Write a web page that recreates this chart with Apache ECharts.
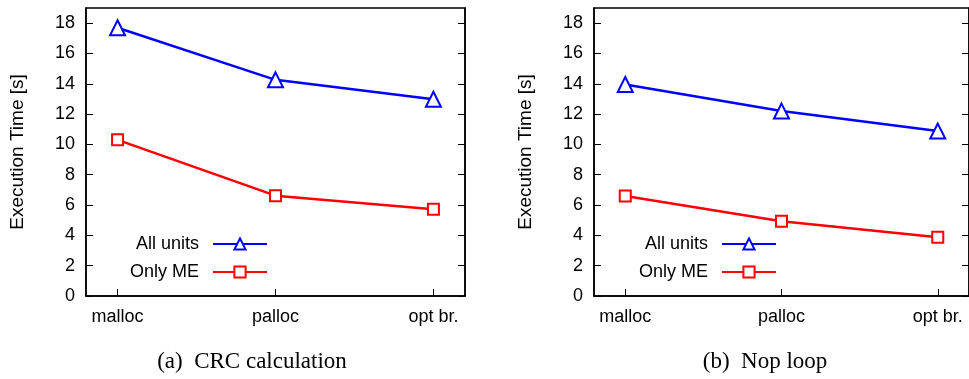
<!DOCTYPE html>
<html>
<head>
<meta charset="utf-8">
<script src="https://cdn.jsdelivr.net/npm/echarts@6/dist/echarts.min.js"></script>
<style>
	html, body { margin: 0; padding: 0; background: #fff; }
	#chart { width: 969px; height: 379px; }
</style>
</head>
<body>
<div id="chart"></div>
<script>
	var categories = ['malloc', 'palloc', 'opt br.'];
	var yTicks = [0, 2, 4, 6, 8, 10, 12, 14, 16, 18];
	var captions = ['(a)  CRC calculation', '(b)  Nop loop'];
	var seriesNames = ['All units', 'Only ME'];

	// (a) CRC calculation
	var crcAllUnits = [17.7, 14.26, 12.98];
	var crcOnlyME = [10.3, 6.62, 5.72];
	// (b) Nop loop
	var nopAllUnits = [13.95, 12.2, 10.88];
	var nopOnlyME = [6.6, 4.93, 3.87];

	var FONT = '"Liberation Sans", Arial, sans-serif';
	var BLUE = '#0000ff', RED = '#ff0000';

	function toPoints(arr) {
		var out = [];
		for (var i = 0; i < arr.length; i++) {
			out.push([i, arr[i]]);
		}
		return out;
	}

	function makeX(idx) {
		return {
			type: 'value', gridIndex: idx, min: -0.2, max: 2.2,
			axisLine: { show: true, onZero: false, lineStyle: { color: '#000', width: 1.5 } },
			axisTick: { show: true, inside: true, length: 7, customValues: [0, 1, 2], lineStyle: { color: '#000', width: 1 } },
			axisLabel: {
				customValues: [0, 1, 2], margin: 12, color: '#000', fontFamily: FONT, fontSize: 18,
				formatter: function(v) { return categories[Math.round(v)]; }
			},
			splitLine: { show: false }
		};
	}

	function makeY(idx, pos) {
		var left = pos == 'left';
		return {
			type: 'value', gridIndex: idx, position: pos, min: 0, max: 19, interval: 2,
			name: left ? 'Execution Time [s]' : '',
			nameLocation: 'middle', nameGap: 59, nameRotate: 90,
			nameTextStyle: { color: '#000', fontFamily: FONT, fontSize: 19 },
			axisLine: { show: true, onZero: false, lineStyle: { color: '#000', width: 1.5 } },
			axisTick: { show: true, inside: true, length: 7, customValues: yTicks, lineStyle: { color: '#000', width: 1 } },
			axisLabel: {
				show: left, customValues: yTicks, margin: 11, color: '#000', fontFamily: FONT, fontSize: 18
			},
			splitLine: { show: false }
		};
	}

	function makeSeries(name, data, idx, color, symbol) {
		return {
			name: name, type: 'line', xAxisIndex: idx, yAxisIndex: idx * 2,
			data: toPoints(data),
			symbol: symbol, symbolSize: symbol == 'emptyTriangle' ? 15 : 11,
			lineStyle: { color: color, width: 2.5 },
			itemStyle: { color: color, borderColor: color, borderWidth: 2 },
			animation: false
		};
	}

	function makeLegend(right) {
		return {
			orient: 'vertical', right: right, top: 235, align: 'right', padding: 0,
			itemWidth: 54, itemHeight: 14, itemGap: 10,
			textStyle: { color: '#000', fontFamily: FONT, fontSize: 18, padding: [0, 9, 0, 0] },
			data: seriesNames,
			selectedMode: false
		};
	}

	var myChart = echarts.init(document.getElementById('chart'), null, { renderer: 'canvas' });
	var option = {
		backgroundColor: '#fff',
		animation: false,
		title: [
			{ text: captions[0], left: 247, top: 345, textAlign: 'center',
			  textStyle: { fontFamily: '"Liberation Serif", serif', fontWeight: 'normal', fontSize: 23, color: '#000' } },
			{ text: captions[1], left: 760, top: 345, textAlign: 'center',
			  textStyle: { fontFamily: '"Liberation Serif", serif', fontWeight: 'normal', fontSize: 23, color: '#000' } }
		],
		legend: [makeLegend(701), makeLegend(192)],
		grid: [
			{ left: 86, top: 8, width: 379, height: 288, show: true, borderColor: '#000', borderWidth: 1.5 },
			{ left: 594, top: 8, width: 379, height: 288, show: true, borderColor: '#000', borderWidth: 1.5 }
		],
		xAxis: [makeX(0), makeX(1)],
		yAxis: [makeY(0, 'left'), makeY(0, 'right'), makeY(1, 'left'), makeY(1, 'right')],
		series: [
			makeSeries(seriesNames[0], crcAllUnits, 0, BLUE, 'emptyTriangle'),
			makeSeries(seriesNames[1], crcOnlyME, 0, RED, 'emptyRect'),
			makeSeries(seriesNames[0], nopAllUnits, 1, BLUE, 'emptyTriangle'),
			makeSeries(seriesNames[1], nopOnlyME, 1, RED, 'emptyRect')
		]
	};
	myChart.setOption(option);
</script>
</body>
</html>
